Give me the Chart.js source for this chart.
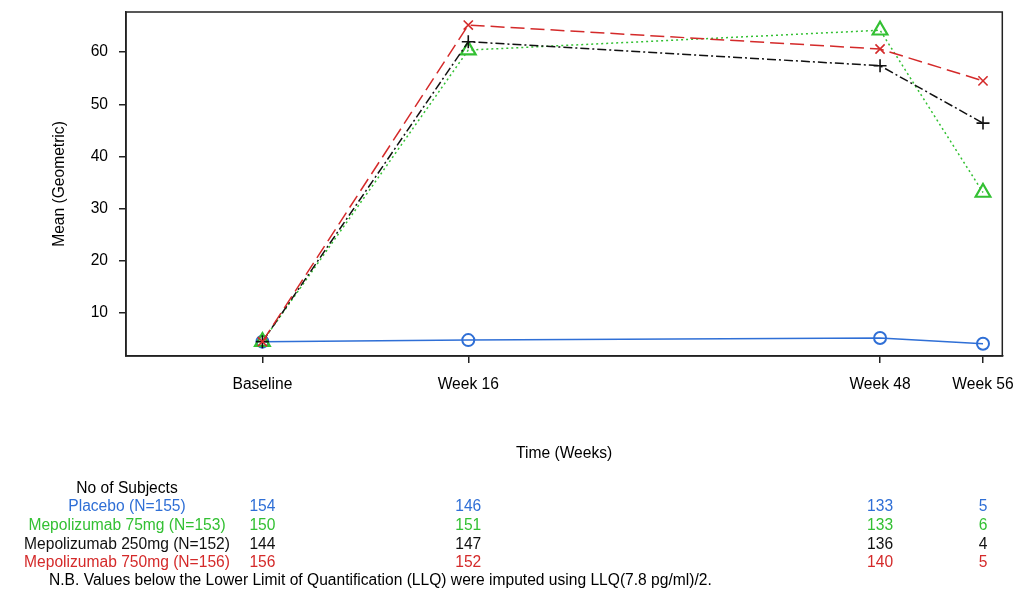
<!DOCTYPE html>
<html>
<head>
<meta charset="utf-8">
<script src="https://cdn.jsdelivr.net/npm/chart.js@4"></script>
<style>
  body { margin: 0; background: #fff; }
</style>
</head>
<body>
<canvas id="myChart" width="1013" height="590"></canvas>
<script>
// visits (weeks since baseline) and their axis labels
const visitWeeks = [0, 16, 48, 56];
const visitLabels = ['Baseline', 'Week 16', 'Week 48', 'Week 56'];

// geometric means per group
const placebo = [4.5, 4.8, 5.2, 4.1];
const mepo75 = [4.5, 60.4, 64.2, 33.1];
const mepo250 = [4.5, 62.0, 57.4, 46.4];
const mepo750 = [4.5, 65.2, 60.6, 54.5];

// number of subjects table
const groupNames = ['Placebo (N=155)', 'Mepolizumab 75mg (N=153)', 'Mepolizumab 250mg (N=152)', 'Mepolizumab 750mg (N=156)'];
const nPlacebo = [154, 146, 133, 5];
const nMepo75 = [150, 151, 133, 6];
const nMepo250 = [144, 147, 136, 4];
const nMepo750 = [156, 152, 140, 5];

const yTicks = [10, 20, 30, 40, 50, 60];

const BLUE = '#2f6fd6', GREEN = '#33c033', BLACK = '#111111', RED = '#d42a2a';
const font = { family: 'Liberation Sans, Arial, sans-serif', size: 15.6 };

function pts(vals) {
  return vals.map((v, i) => ({ x: visitWeeks[i], y: v }));
}

const tablePlugin = {
  id: 'tablePlugin',
  afterDraw(chart) {
    const ctx = chart.ctx;
    const a = chart.chartArea;
    const xs = chart.scales.x;
    ctx.save();
    ctx.strokeStyle = '#222';
    ctx.lineWidth = 1.5;
    ctx.strokeRect(a.left, a.top, a.right - a.left, a.bottom - a.top);

    ctx.font = '15.6px Liberation Sans, Arial, sans-serif';
    ctx.textBaseline = 'middle';
    ctx.textAlign = 'center';
    ctx.fillStyle = '#000';
    ctx.fillText('No of Subjects', 127, 489);

    const rows = [nPlacebo, nMepo75, nMepo250, nMepo750];
    const colors = [BLUE, GREEN, BLACK, RED];
    const rowY = [507, 526, 545, 563];
    rows.forEach((r, i) => {
      ctx.fillStyle = colors[i];
      ctx.textAlign = 'center';
      ctx.fillText(groupNames[i], 127, rowY[i]);
      r.forEach((n, j) => {
        ctx.fillText(String(n), xs.getPixelForValue(visitWeeks[j]), rowY[i]);
      });
    });
    ctx.fillStyle = '#000';
    ctx.textAlign = 'left';
    ctx.fillText('N.B. Values below the Lower Limit of Quantification (LLQ) were imputed using LLQ(7.8 pg/ml)/2.', 49, 581);
    ctx.restore();
  }
};

const ctx = document.getElementById('myChart').getContext('2d');
const myChart = new Chart(ctx, {
  type: 'line',
  data: {
    datasets: [
      { label: 'Mepolizumab 750mg', data: pts(mepo750), borderColor: RED, borderDash: [14, 6],
        pointStyle: 'crossRot', pointRadius: 6.5, pointBorderWidth: 1.6, pointBorderColor: RED },
      { label: 'Mepolizumab 250mg', data: pts(mepo250), borderColor: BLACK, borderDash: [9, 3, 2, 3],
        pointStyle: 'cross', pointRadius: 6.5, pointBorderWidth: 1.6, pointBorderColor: BLACK },
      { label: 'Mepolizumab 75mg', data: pts(mepo75), borderColor: GREEN, borderDash: [2, 3],
        pointStyle: 'triangle', pointRadius: 8.5, pointBorderWidth: 2.2, pointBorderColor: GREEN },
      { label: 'Placebo', data: pts(placebo), borderColor: BLUE,
        pointStyle: 'circle', pointRadius: 6, pointBorderWidth: 2, pointBorderColor: BLUE }
    ]
  },
  options: {
    responsive: false,
    animation: false,
    layout: { padding: { left: 50, top: 12, right: 7, bottom: 127 } },
    elements: {
      line: { borderWidth: 1.5, tension: 0, fill: false },
      point: { backgroundColor: 'rgba(0,0,0,0)' }
    },
    plugins: { legend: { display: false }, tooltip: { enabled: false } },
    scales: {
      x: {
        type: 'linear',
        min: -10.6,
        max: 57.5,
        afterBuildTicks: s => { s.ticks = visitWeeks.map(v => ({ value: v })); },
        afterFit: s => { s.height = 107; s.paddingLeft = 0; s.paddingRight = 0; },
        ticks: {
          color: '#000', font: font, padding: 12, autoSkip: false, maxRotation: 0,
          callback: v => visitLabels[visitWeeks.indexOf(v)]
        },
        grid: { drawOnChartArea: false, tickLength: 7, color: '#222', lineWidth: 1.5 },
        border: { color: '#222', width: 1.5 },
        title: { display: true, text: 'Time (Weeks)', color: '#000', font: font, padding: 0 }
      },
      y: {
        min: 1.75,
        max: 67.7,
        afterBuildTicks: s => { s.ticks = yTicks.map(v => ({ value: v })); },
        afterFit: s => { s.width = 76; s.paddingTop = 0; s.paddingBottom = 0; },
        ticks: { color: '#000', font: font, padding: 11 },
        grid: { drawOnChartArea: false, tickLength: 7, color: '#222', lineWidth: 1.5 },
        border: { color: '#222', width: 1.5 },
        title: { display: true, text: 'Mean (Geometric)', color: '#000', font: font, padding: 0 }
      }
    }
  },
  plugins: [tablePlugin]
});

console.log(myChart);
</script>
</body>
</html>
